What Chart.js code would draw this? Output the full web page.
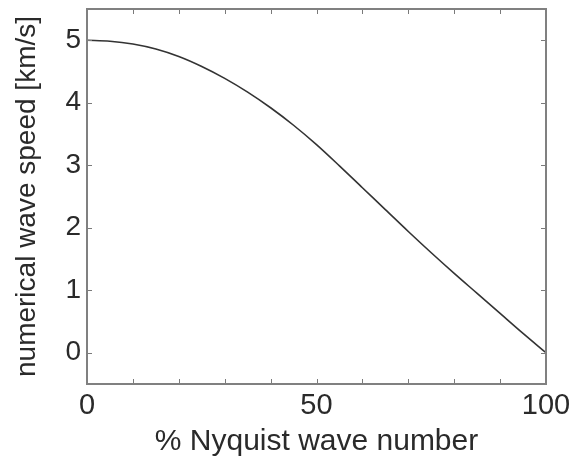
<!DOCTYPE html>
<html>
<head>
<meta charset="utf-8">
<script src="https://cdn.jsdelivr.net/npm/chart.js@4/dist/chart.umd.min.js"></script>
<style>
  html, body { margin: 0; padding: 0; background: #fff; }
  #wrap { width: 574px; height: 460px; }
</style>
</head>
<body>
<div id="wrap"><canvas id="speed" width="574" height="460"></canvas></div>
<script>
// dispersion curve: numerical wave speed vs. % of Nyquist wave number
const waveNumber = [0, 5, 10, 15, 20, 25, 30, 35, 40, 45, 50, 55, 60, 65, 70, 75, 80, 85, 90, 95, 100];
const waveSpeed = [5.00, 4.985, 4.94, 4.86, 4.74, 4.58, 4.39, 4.17, 3.92, 3.64, 3.33, 2.99, 2.64, 2.29, 1.94, 1.60, 1.27, 0.95, 0.63, 0.31, 0.00];

const xLabelTicks = [0, 50, 100];
const xMinorTicks = [0, 10, 20, 30, 40, 50, 60, 70, 80, 90, 100];
const yTicks = [0, 1, 2, 3, 4, 5];

const textColor = '#2a2a2a';
const family = '"Liberation Sans", Arial, sans-serif';

// box around the plot area with inward tick marks on all four sides
const boxTicks = {
  id: 'boxTicks',
  afterDraw(chart) {
    const { ctx, chartArea: a, scales: { x, y } } = chart;
    const len = 5;
    ctx.save();
    ctx.strokeStyle = '#7a7a7a';
    ctx.lineWidth = 1;
    ctx.beginPath();
    xMinorTicks.forEach(v => {
      const px = Math.round(x.getPixelForValue(v)) + 0.5;
      ctx.moveTo(px, a.bottom); ctx.lineTo(px, a.bottom - len);
      ctx.moveTo(px, a.top); ctx.lineTo(px, a.top + len);
    });
    yTicks.forEach(v => {
      const py = Math.round(y.getPixelForValue(v)) + 0.5;
      ctx.moveTo(a.left, py); ctx.lineTo(a.left + len, py);
      ctx.moveTo(a.right, py); ctx.lineTo(a.right - len, py);
    });
    ctx.stroke();
    ctx.lineWidth = 2;
    ctx.strokeStyle = '#808080';
    ctx.strokeRect(a.left, a.top, a.right - a.left, a.bottom - a.top);
    ctx.restore();
  }
};

new Chart(document.getElementById('speed'), {
  type: 'line',
  data: {
    datasets: [{
      data: waveNumber.map((k, i) => ({ x: k, y: waveSpeed[i] })),
      borderColor: '#333',
      borderWidth: 1.6,
      pointRadius: 0,
      cubicInterpolationMode: 'monotone',
      fill: false
    }]
  },
  options: {
    responsive: false,
    animation: false,
    layout: { padding: { top: 9, right: 28, left: 0, bottom: 0 } },
    plugins: { legend: { display: false }, tooltip: { enabled: false } },
    scales: {
      x: {
        type: 'linear',
        min: 0,
        max: 100,
        grid: { display: false, drawTicks: false },
        border: { display: false },
        afterBuildTicks: s => { s.ticks = xLabelTicks.map(v => ({ value: v })); },
        afterFit: s => { s.height = 76; s.paddingLeft = 0; s.paddingRight = 0; },
        ticks: { color: textColor, font: { family, size: 29 }, padding: 5, maxRotation: 0 },
        title: {
          display: true,
          text: '% Nyquist wave number',
          color: textColor,
          font: { family, size: 30 },
          padding: { top: 0, bottom: 0 }
        }
      },
      y: {
        type: 'linear',
        min: -0.5,
        max: 5.5,
        grid: { display: false, drawTicks: false },
        border: { display: false },
        afterBuildTicks: s => { s.ticks = yTicks.map(v => ({ value: v })); },
        afterFit: s => { s.width = 87; s.paddingTop = 0; s.paddingBottom = 0; },
        ticks: { color: textColor, font: { family, size: 28 }, padding: 6 },
        title: {
          display: true,
          text: 'numerical wave speed [km/s]',
          color: textColor,
          font: { family, size: 28 },
          padding: { top: 10, bottom: 0 }
        }
      }
    }
  },
  plugins: [boxTicks]
});
</script>
</body>
</html>
